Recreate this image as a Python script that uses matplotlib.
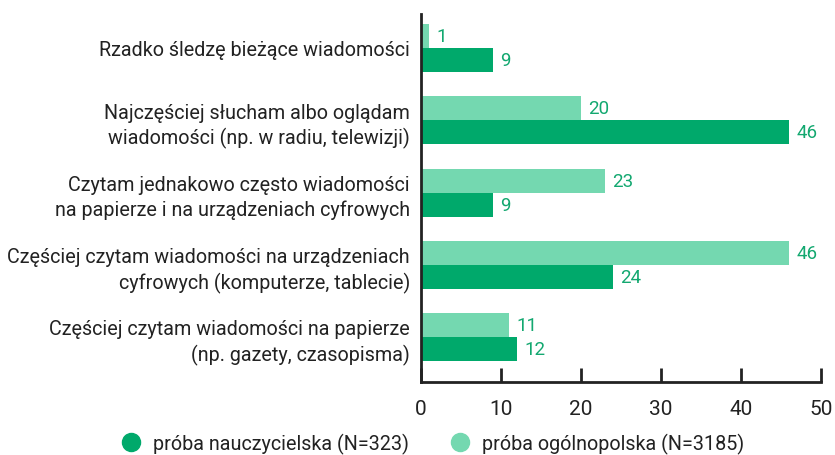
import matplotlib
matplotlib.use("Agg")
import matplotlib.pyplot as plt
from matplotlib.lines import Line2D

categories = [
    "Rzadko śledzę bieżące wiadomości",
    "Najczęściej słucham albo oglądam\nwiadomości (np. w radiu, telewizji)",
    "Czytam jednakowo często wiadomości\nna papierze i na urządzeniach cyfrowych",
    "Częściej czytam wiadomości na urządzeniach\ncyfrowych (komputerze, tablecie)",
    "Częściej czytam wiadomości na papierze\n(np. gazety, czasopisma)",
]
ogolnopolska = [1, 20, 23, 46, 11]
nauczycielska = [9, 46, 9, 24, 12]
series_names = ["próba nauczycielska (N=323)", "próba ogólnopolska (N=3185)"]
xticks = [0, 10, 20, 30, 40, 50]

dark = "#00a96b"
light = "#74d8b0"
txt_green = "#13a870"
ink = "#222222"

plt.rcParams['font.family'] = ['Roboto', 'DejaVu Sans']

fig = plt.figure(figsize=(8.35, 4.56), dpi=100)
ax = fig.add_axes([421/835, 1-383/456, 400/835, (383-15)/456])

h = 0.333
ys = list(range(len(categories)))
ax.barh([y - h/2 for y in ys], ogolnopolska, height=h, color=light)
ax.barh([y + h/2 for y in ys], nauczycielska, height=h, color=dark)
for y, v in zip(ys, ogolnopolska):
    ax.text(v + 0.9, y - h/2, str(v), va='center', ha='left', color=txt_green, fontsize=13.5)
for y, v in zip(ys, nauczycielska):
    ax.text(v + 0.9, y + h/2, str(v), va='center', ha='left', color=txt_green, fontsize=13.5)

ax.set_ylim(4.62, -0.47)
ax.set_xlim(0, 50)
ax.set_yticks(ys)
ax.set_yticklabels(categories, fontsize=14.2, color=ink, linespacing=1.33)
ax.tick_params(axis='y', length=0, pad=8)
ax.set_xticks(xticks)
ax.set_xticklabels([str(t) for t in xticks], fontsize=15, color=ink)
ax.tick_params(axis='x', direction='in', length=10, width=2, color=ink, pad=12)
for s in ['top', 'right']:
    ax.spines[s].set_visible(False)
for s in ['left', 'bottom']:
    ax.spines[s].set_linewidth(2)
    ax.spines[s].set_color(ink)

handles = [Line2D([], [], marker='o', ls='', markersize=13, color=dark),
           Line2D([], [], marker='o', ls='', markersize=13, color=light)]
fig.legend(handles, series_names, loc='center', bbox_to_anchor=(0.512, 1-444/456),
           ncol=2, frameon=False, fontsize=14.2, handletextpad=0.1, columnspacing=1.6,
           labelcolor=ink)

fig.savefig("out.png", dpi=100)
